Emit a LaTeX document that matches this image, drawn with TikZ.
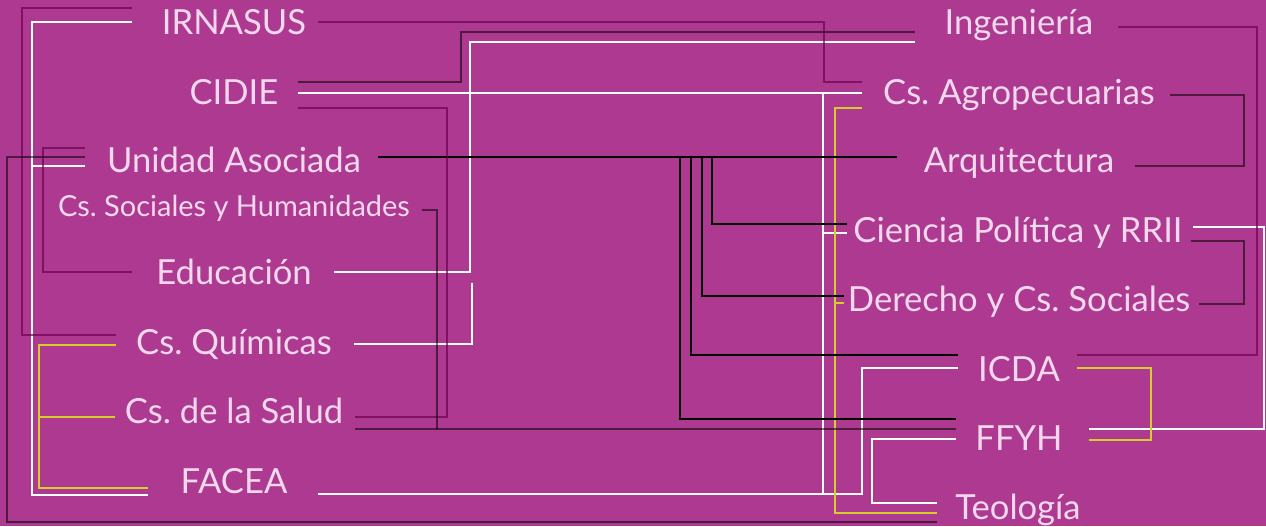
\documentclass[tikz,border=0pt]{standalone}
\usepackage{fontspec}
\setmainfont{Lato}
\usepackage{tikz}
\usepackage{xcolor}
\definecolor{ucbg}{RGB}{173,58,144}
\definecolor{uctext}{RGB}{242,216,236}
\definecolor{ucyellow}{RGB}{214,204,42}
\definecolor{ucmagenta}{RGB}{110,0,80}
\tikzstyle{faculty} = [text=uctext, inner sep=0pt, text height=17.6pt, text depth=0pt, font=\fontsize{24.6}{29}\selectfont]
\tikzstyle{smallfac} = [faculty, text height=14.6pt, font=\fontsize{20.6}{24}\selectfont]
\tikzstyle{whiteline} = [line width=2.1pt, color=white]
\tikzstyle{yellowline} = [line width=2.1pt, color=ucyellow]
\tikzstyle{blackline} = [line width=2.1pt, color=black]
\tikzstyle{magline} = [line width=1.8pt, color=ucmagenta, opacity=0.7]
\tikzstyle{darkline} = [line width=1.8pt, color=black, opacity=0.55]

\begin{document}
\frenchspacing
\begin{tikzpicture}[x=0.025cm, y=-0.025cm]
    \fill[ucbg] (0,0) rectangle (1266,526);
    \useasboundingbox (0,0) rectangle (1266,526);

    % Nodes, left
    \node[faculty] (irnasus) at (234,22) {IRNASUS};
    \node[faculty] (cidie) at (234,92) {CIDIE};
    \node[faculty] (unidad) at (234,160) {Unidad Asociada};
    \node[smallfac] (sociales) at (234,206) {Cs. Sociales y Humanidades};
    \node[faculty] (educ) at (234,272) {Educación};
    \node[faculty] (quim) at (234,342) {Cs. Químicas};
    \node[faculty] (salud) at (234,411) {Cs. de la Salud};
    \node[faculty] (facea) at (234,481) {FACEA};

    % Nodes, right
    \node[faculty] (ing) at (1019,22) {Ingeniería};
    \node[faculty] (agro) at (1019,92) {Cs. Agropecuarias};
    \node[faculty] (arq) at (1019,160) {Arquitectura};
    \node[faculty] (cpol) at (1018,230) {Ciencia Política y RRII};
    \node[faculty] (der) at (1019,299) {Derecho y Cs. Sociales};
    \node[faculty] (icda) at (1019,369) {ICDA};
    \node[faculty] (ffyh) at (1019,438) {FFYH};
    \node[faculty] (teo) at (1018,507) {Teología};
    \coordinate (quimend) at (472,283);

    % White lines
    \draw[whiteline] ([shift={(-30,0)}]irnasus.west) -| (32,495) -- ([shift={(-32,14)}]facea.west);
    \draw[whiteline] (32,166) -- ([shift={(-22,6)}]unidad.west);
    \draw[whiteline] ([shift={(22,0)}]educ.east) -| (470,42) -- ([shift={(-29,20)}]ing.west);
    \draw[whiteline] ([shift={(19,1)}]cidie.east) -- ([shift={(-21,1)}]agro.west);
    \draw[whiteline] (823,93) -- (823,494);
    \draw[whiteline] (823,233) -- ([shift={(-6,3)}]cpol.west);
    \draw[whiteline] ([shift={(30,13)}]facea.east) -| (862,368) -- ([shift={(-20,-1)}]icda.west);
    \draw[whiteline] ([shift={(22,2)}]quim.east) -| (quimend);
    \draw[whiteline] ([shift={(10,-3)}]cpol.east) -| (1264,429) -- ([shift={(26,-9)}]ffyh.east);
    \draw[whiteline] ([shift={(-19,1)}]ffyh.west) -| (872,503) -- ([shift={(-18,-4)}]teo.west);

    % Yellow lines
    \draw[yellowline] ([shift={(-20,3)}]quim.west) -| (39,488) -- ([shift={(-32,7)}]facea.west);
    \draw[yellowline] (39,417) -- ([shift={(-10,6)}]salud.west);
    \draw[yellowline] ([shift={(-21,16)}]agro.west) -| (835,513) -- ([shift={(-18,6)}]teo.west);
    \draw[yellowline] (835,303) -- ([shift={(-4,4)}]der.west);
    \draw[yellowline] ([shift={(17,-1)}]icda.east) -| (1151,440) -- ([shift={(26,2)}]ffyh.east);

    % Black lines
    \draw[blackline] ([shift={(17,-3)}]unidad.east) -- ([shift={(-26,-3)}]arq.west);
    \draw[blackline] (712,157) |- ([shift={(-6,-6)}]cpol.west);
    \draw[blackline] (702,157) |- ([shift={(-4,-3)}]der.west);
    \draw[blackline] (691,157) |- ([shift={(-20,-14)}]icda.west);
    \draw[blackline] (680,157) |- ([shift={(-19,-19)}]ffyh.west);

    % Magenta lines
    \draw[magline] ([shift={(-30,-14)}]irnasus.west) -| (22,335) -- ([shift={(-20,-7)}]quim.west);
    \draw[magline] ([shift={(-22,-12)}]unidad.west) -| (43,272) -- ([shift={(-24,0)}]educ.west);
    \draw[magline] ([shift={(12,0)}]irnasus.east) -| (824,82) -- ([shift={(-21,-10)}]agro.west);
    \draw[magline] ([shift={(19,16)}]cidie.east) -| (447,417) -- ([shift={(12,6)}]salud.east);
    \draw[magline] ([shift={(24,5)}]ing.east) -| (1257,355) -- ([shift={(17,-14)}]icda.east);

    % Dark lines
    \draw[darkline] ([shift={(-22,-3)}]unidad.west) -| (7,522) -- ([shift={(-18,15)}]teo.west);
    \draw[darkline] ([shift={(19,-10)}]cidie.east) -| (461,32) -- ([shift={(-29,10)}]ing.west);
    \draw[darkline] ([shift={(12,4)}]sociales.east) -| (437,429);
    \draw[darkline] ([shift={(12,18)}]salud.east) -- ([shift={(-19,-9)}]ffyh.west);
    \draw[darkline] ([shift={(15,3)}]agro.east) -| (1244,166) -- ([shift={(20,6)}]arq.east);
    \draw[darkline] ([shift={(8,11)}]cpol.east) -| (1244,304) -- ([shift={(9,5)}]der.east);
\end{tikzpicture}
\end{document}
